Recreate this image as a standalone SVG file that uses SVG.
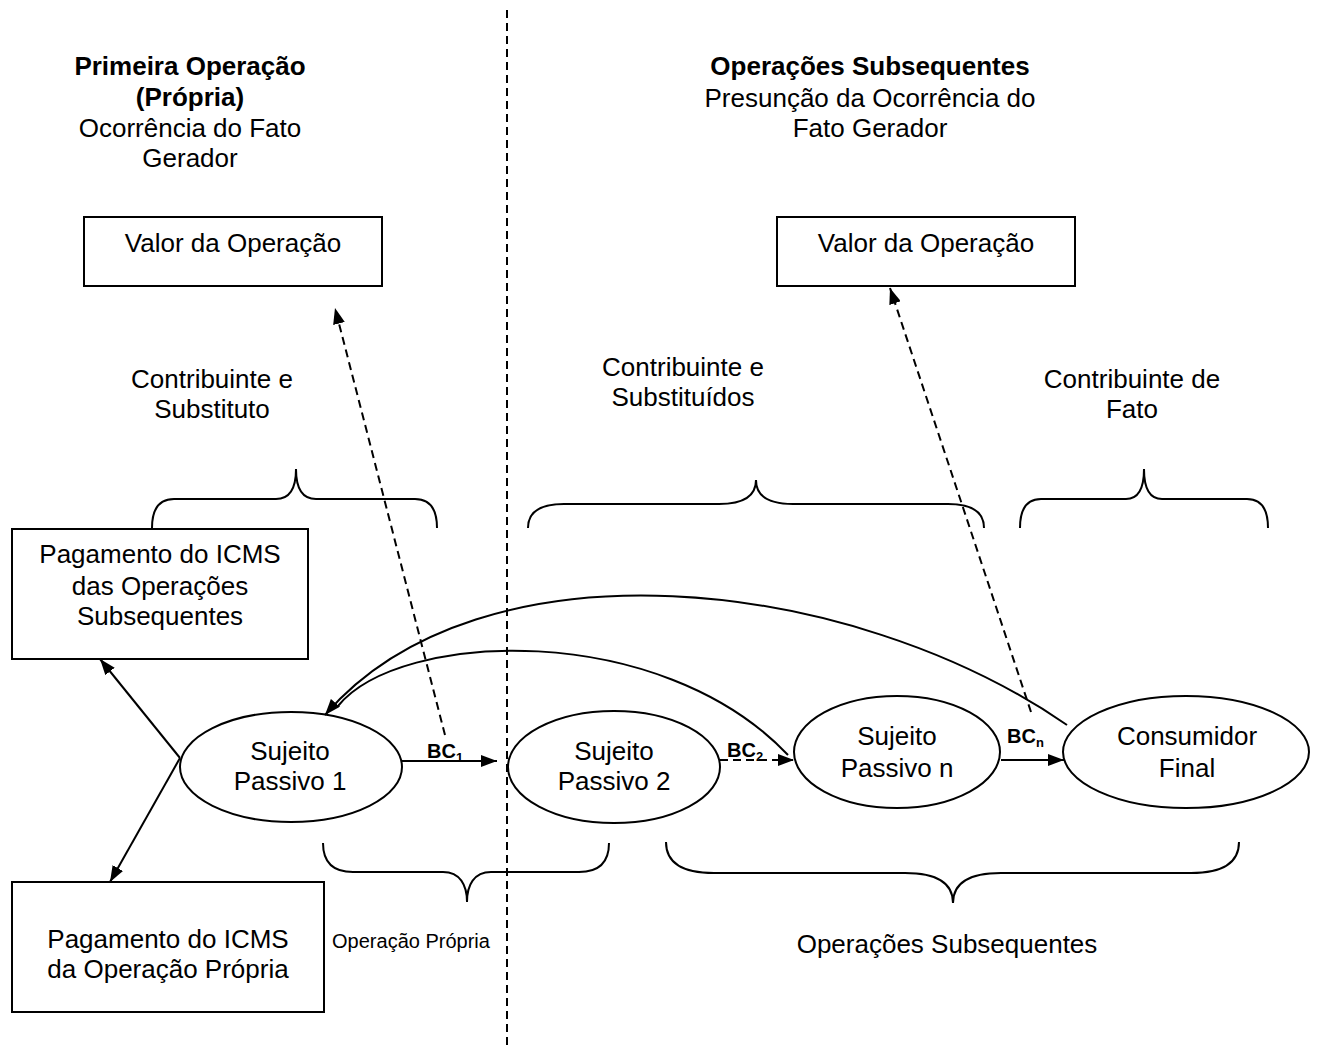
<svg xmlns="http://www.w3.org/2000/svg" width="1317" height="1047" viewBox="0 0 1317 1047">
<style>
text{font-family:"Liberation Sans",Arial,sans-serif;fill:#000}
.t{font-size:26px;text-anchor:middle}
.b{font-weight:bold}
.bc{font-size:20px;font-weight:bold}
.sub{font-size:13px;font-weight:bold}
.shape{fill:#fff;stroke:#000;stroke-width:2}
.ln{fill:none;stroke:#000;stroke-width:2}
.dash{stroke-dasharray:8,5}
.brace{fill:none;stroke:#000;stroke-width:2}
</style>
<defs>
<marker id="ah" markerUnits="userSpaceOnUse" markerWidth="16" markerHeight="12" viewBox="0 0 16 12" refX="16" refY="6" orient="auto">
<path d="M0,0 L16,6 L0,12 z" fill="#000"/>
</marker>
</defs>
<rect width="1317" height="1047" fill="#fff"/>

<g id="divider">
<line x1="507" y1="10" x2="507" y2="1047" class="ln dash"/>
</g>

<g id="header-left">
<text class="t b" x="190" y="75">Primeira Operação</text>
<text class="t b" x="190" y="106">(Própria)</text>
<text class="t" x="190" y="137">Ocorrência do Fato</text>
<text class="t" x="190" y="167">Gerador</text>
</g>
<g id="header-right">
<text class="t b" x="870" y="75">Operações Subsequentes</text>
<text class="t" x="870" y="107">Presunção da Ocorrência do</text>
<text class="t" x="870" y="137">Fato Gerador</text>
</g>

<g id="valor-left">
<rect class="shape" x="84" y="217" width="298" height="69"/>
<text class="t" x="233" y="252">Valor da Operação</text>
</g>
<g id="valor-right">
<rect class="shape" x="777" y="217" width="298" height="69"/>
<text class="t" x="926" y="252">Valor da Operação</text>
</g>

<g id="labels">
<text class="t" x="212" y="388">Contribuinte e</text>
<text class="t" x="212" y="418">Substituto</text>
<text class="t" x="683" y="376">Contribuinte e</text>
<text class="t" x="683" y="406">Substituídos</text>
<text class="t" x="1132" y="388">Contribuinte de</text>
<text class="t" x="1132" y="418">Fato</text>
<text x="411" y="948" style="font-size:20px;text-anchor:middle">Operação Própria</text>
<text class="t" x="947" y="953">Operações Subsequentes</text>
</g>

<g id="braces">
<path class="brace" d="M152,528 Q152,499 174,499 L276,499 C290,499 296,488 296,469 C296,488 302,499 316,499 L415,499 Q437,499 437,528"/>
<path class="brace" d="M528,528 Q528,504 564,504 L719,504 C745,504 756,495 756,480 C756,495 767,504 793,504 L948,504 Q984,504 984,528"/>
<path class="brace" d="M1020,528 Q1020,499 1041,499 L1126,499 C1138,499 1144,490 1144,469 C1144,490 1150,499 1162,499 L1247,499 Q1268,499 1268,528"/>
<path class="brace" d="M323,843 Q323,872 353,872 L443,872 C460,872 467,885 467,902 C467,885 474,872 491,872 L579,872 Q609,872 609,843"/>
<path class="brace" d="M666,842 Q666,873 714,873 L905,873 C940,873 953,885 953,903 C953,885 966,873 1001,873 L1191,873 Q1239,873 1239,842"/>
</g>

<g id="pag-sub">
<rect class="shape" x="12" y="529" width="296" height="130"/>
<text class="t" x="160" y="563">Pagamento do ICMS</text>
<text class="t" x="160" y="595">das Operações</text>
<text class="t" x="160" y="625">Subsequentes</text>
</g>
<g id="pag-propria">
<rect class="shape" x="12" y="882" width="312" height="130"/>
<text class="t" x="168" y="948">Pagamento do ICMS</text>
<text class="t" x="168" y="978">da Operação Própria</text>
</g>

<g id="sp1">
<ellipse class="shape" cx="291" cy="767" rx="111" ry="55"/>
<text class="t" x="290" y="760">Sujeito</text>
<text class="t" x="290" y="790">Passivo 1</text>
</g>
<g id="sp2">
<ellipse class="shape" cx="614" cy="767" rx="106" ry="56"/>
<text class="t" x="614" y="760">Sujeito</text>
<text class="t" x="614" y="790">Passivo 2</text>
</g>
<g id="spn">
<ellipse class="shape" cx="897" cy="752" rx="103" ry="56"/>
<text class="t" x="897" y="745">Sujeito</text>
<text class="t" x="897" y="777">Passivo n</text>
</g>
<g id="consumidor">
<ellipse class="shape" cx="1186" cy="752" rx="123" ry="56"/>
<text class="t" x="1187" y="745">Consumidor</text>
<text class="t" x="1187" y="777">Final</text>
</g>

<g id="connectors">
<line class="ln" x1="180" y1="758" x2="100" y2="659" marker-end="url(#ah)"/>
<line class="ln" x1="180" y1="758" x2="110" y2="882" marker-end="url(#ah)"/>
<line class="ln" x1="402" y1="761" x2="497" y2="761" marker-end="url(#ah)"/>
<line class="ln dash" x1="720" y1="760" x2="794" y2="760" marker-end="url(#ah)"/>
<line class="ln" x1="1001" y1="760" x2="1064" y2="760" marker-end="url(#ah)"/>
<line class="ln dash" x1="445" y1="735" x2="335" y2="308" marker-end="url(#ah)"/>
<line class="ln dash" x1="1031" y1="712" x2="890" y2="288" marker-end="url(#ah)"/>
<path class="ln" d="M1067,725 C850,575 480,535 325,715" marker-end="url(#ah)"/>
<path class="ln" d="M788,755 C660,620 400,630 338,706"/>
</g>

<g id="bc-labels">
<text class="bc" x="427" y="758">BC<tspan class="sub" dy="4">1</tspan></text>
<text class="bc" x="727" y="757">BC<tspan class="sub" dy="4">2</tspan></text>
<text class="bc" x="1007" y="743">BC<tspan class="sub" dy="4">n</tspan></text>
</g>
</svg>
